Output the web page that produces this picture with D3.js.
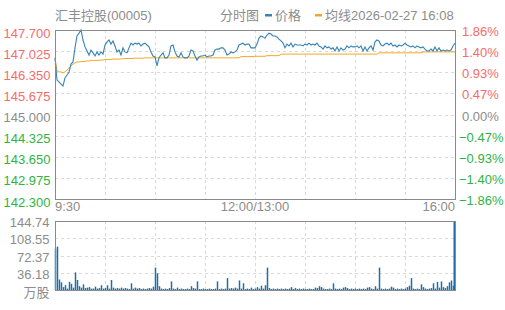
<!DOCTYPE html>
<html><head><meta charset="utf-8">
<script src="https://cdn.jsdelivr.net/npm/d3@7"></script>
<style>
body{margin:0;background:#fff;}
text{font-family:"Liberation Sans",Arial,"Noto Sans CJK SC",sans-serif;}
</style></head>
<body><svg id="c" width="505" height="310"></svg>
<script>
const title = "汇丰控股(00005)";
const legendLabels = ["分时图", "价格", "均线2026-02-27 16:08"];
const preClose = 145.000;
const priceTicks = [147.700,147.025,146.350,145.675,145.000,144.325,143.650,142.975,142.300];
const priceTickLabels = ["147.700","147.025","146.350","145.675","145.000","144.325","143.650","142.975","142.300"];
const pctTickLabels = ["1.86%","1.40%","0.93%","0.47%","0.00%","\u22120.47%","\u22120.93%","\u22121.40%","\u22121.86%"];
const timeLabels = ["9:30","12:00/13:00","16:00"];
const volTicks = [144.74,108.55,72.37,36.18];
const volTickLabels = ["144.74","108.55","72.37","36.18"];
const volUnit = "万股";

const prices = [146.81,146.10,146.04,145.97,145.91,146.17,146.26,146.36,146.61,146.68,147.13,147.51,147.60,147.70,147.38,147.16,147.03,146.90,147.06,146.97,146.87,147.00,146.90,147.00,146.93,147.22,147.32,147.38,147.25,147.35,147.19,147.00,147.06,146.90,147.13,147.00,146.97,147.13,147.28,147.22,147.28,147.25,147.28,147.19,147.25,147.28,147.22,147.16,147.00,146.87,
146.84,146.55,146.81,146.90,146.97,146.81,146.81,146.90,147.19,147.22,147.00,146.87,146.84,146.97,146.84,146.81,146.81,146.87,147.06,147.03,146.87,146.74,146.84,146.87,146.87,146.90,146.84,146.87,146.87,146.90,147.06,147.09,147.09,147.13,147.13,147.06,146.90,146.93,147.00,146.97,147.00,147.06,147.22,147.25,147.28,147.22,147.25,147.25,147.13,147.13,
147.13,147.25,147.44,147.51,147.48,147.44,147.54,147.60,147.57,147.51,147.51,147.48,147.41,147.35,147.28,147.13,147.25,147.19,147.28,147.16,147.25,147.22,147.22,147.22,147.19,147.25,147.22,147.28,147.22,147.25,147.22,147.28,147.19,147.16,147.09,147.19,147.13,147.16,147.09,147.13,147.03,147.16,147.03,147.13,147.06,147.09,147.19,147.13,147.19,147.16,
147.16,147.19,147.13,147.19,147.03,147.16,147.03,147.13,147.19,147.06,147.32,147.38,147.35,147.22,147.19,147.25,147.28,147.22,147.28,147.19,147.22,147.16,147.22,147.19,147.22,147.28,147.22,147.19,147.16,147.19,147.13,147.19,147.16,147.13,147.16,147.09,147.03,147.03,147.09,147.03,147.16,147.03,147.13,147.03,147.06,147.03,147.06,147.03,147.06,147.19,147.28];

const avgPrices = [146.81,146.39,146.36,146.36,146.33,146.36,
146.42,146.49,146.55,146.61,146.65,146.68,146.68,146.69,146.69,146.70,
146.71,146.71,146.73,146.73,146.73,146.73,146.73,146.74,146.74,
146.76,146.76,146.76,146.76,146.77,146.77,146.77,146.77,146.78,146.78,
146.79,146.79,146.79,146.79,146.79,146.80,146.80,146.80,146.80,146.80,146.81,146.81,146.81,146.81,146.81,
146.81,146.81,146.81,146.81,146.81,146.81,146.81,146.81,146.81,146.81,146.81,146.81,146.81,146.81,146.81,146.81,146.81,146.81,146.81,146.81,146.81,146.81,146.81,146.81,146.81,146.81,146.81,146.81,146.81,146.81,146.81,146.81,146.81,146.81,146.81,146.81,146.81,146.81,146.81,146.81,146.81,146.81,146.81,
146.85,146.85,146.85,146.85,146.85,146.85,146.85,
146.86,146.86,146.86,146.86,146.86,146.86,
146.88,146.88,146.88,146.88,146.88,146.88,146.88,
146.93,146.93,146.93,146.93,146.93,146.93,146.93,146.93,146.93,146.93,146.93,146.93,146.93,146.93,146.93,146.93,146.93,146.93,146.93,146.93,146.93,146.93,146.93,146.93,146.93,146.93,146.93,146.93,146.93,146.93,146.93,146.93,146.93,146.93,146.93,146.93,146.93,
146.93,146.93,146.93,146.93,146.93,146.93,146.93,146.93,146.93,146.93,146.93,146.93,
146.97,146.97,146.97,146.97,146.97,146.97,146.97,146.97,146.97,146.97,146.97,146.97,146.97,146.97,146.97,146.97,146.97,146.97,146.97,146.97,146.97,146.97,
147.00,147.00,147.00,147.00,147.00,147.00,147.00,147.00,147.00,147.00,147.00,147.00,147.00,147.00,147.00,147.00,147.00];

const volumes = [87,91,22,16,6,10,3,17,13,5,37,21,8,5,12,4,5,6,3,3,7,3,4,10,3,4,10,3,21,5,3,4,3,5,3,4,3,2,14,3,5,3,4,2,3,2,3,4,3,7,
47,35,8,3,2,3,2,4,18,3,2,5,2,3,2,2,3,2,8,4,3,18,2,2,3,2,2,3,2,2,3,18,2,3,2,3,25,3,4,3,5,3,20,3,14,2,3,2,5,2,
3,6,3,9,3,10,47,4,2,3,2,3,2,3,2,3,2,3,6,2,4,2,3,2,3,2,2,3,2,2,5,4,8,6,3,2,2,3,2,14,3,2,3,2,5,6,4,2,3,2,
3,2,3,2,3,2,5,6,3,2,8,3,47,3,2,3,2,3,7,5,2,3,2,3,2,3,6,9,25,3,2,3,2,12,6,3,2,3,4,14,3,17,5,18,6,4,8,16,20,9,144.74];

const svg = d3.select("#c");
const L = 55, R = 455, T = 30, B = 199, VT = 221, VB = 290;
const red = "#f56c6c", green = "#2fb344", gray = "#8c8c8c";
const lineColor = "#3783b6", avgColor = "#f7a823", volColor = "#1f6ea6";

const x = d3.scaleLinear().domain([0, prices.length - 1]).range([L, R]);
const y = d3.scaleLinear().domain([142.3, 147.7]).range([B, T]);
const yv = d3.scaleLinear().domain([0, 144.74]).range([VB, VT]);

function grid(top, bottom, yTicks, yScale) {
  const g = svg.append("g").attr("stroke", "#d9d9d9").attr("stroke-dasharray", "3,3").attr("stroke-width", 1);
  for (let k = 1; k < 8; k++) {
    const gx = Math.round(L + (R - L) * k / 8) + 0.5;
    g.append("line").attr("x1", gx).attr("x2", gx).attr("y1", top).attr("y2", bottom);
  }
  yTicks.forEach(v => {
    const gy = Math.round(yScale(v)) + 0.5;
    g.append("line").attr("x1", L).attr("x2", R).attr("y1", gy).attr("y2", gy);
  });
}
grid(T, B, priceTicks.slice(1, -1), y);
grid(VT, VB, volTicks.slice(1), yv);

// price labels
const fs = 13;
priceTicks.forEach((v, i) => {
  const c = v > preClose ? red : (v < preClose ? green : gray);
  svg.append("text").attr("x", 50.5).attr("y", y(v) + 3).attr("dy", "0.35em")
    .attr("text-anchor", "end").attr("font-size", fs).attr("fill", c).text(priceTickLabels[i]);
  svg.append("text").attr("x", v < preClose ? 459 : 462).attr("y", y(v) + 1.5).attr("dy", "0.35em")
    .attr("text-anchor", "start").attr("font-size", fs).attr("fill", c).text(pctTickLabels[i]);
});

// time labels
svg.append("text").attr("x", L).attr("y", 206).attr("dy", "0.35em").attr("font-size", fs).attr("fill", gray).attr("text-anchor", "start").text(timeLabels[0]);
svg.append("text").attr("x", (L + R) / 2).attr("y", 206).attr("dy", "0.35em").attr("font-size", fs).attr("fill", gray).attr("text-anchor", "middle").text(timeLabels[1]);
svg.append("text").attr("x", R).attr("y", 206).attr("dy", "0.35em").attr("font-size", fs).attr("fill", gray).attr("text-anchor", "end").text(timeLabels[2]);

// volume labels
volTicks.forEach((v, i) => {
  svg.append("text").attr("x", 49.5).attr("y", yv(v) + 1.5).attr("dy", "0.35em").attr("text-anchor", "end")
    .attr("font-size", fs).attr("fill", gray).text(volTickLabels[i]);
});
svg.append("text").attr("x", 49.5).attr("y", 292.5).attr("dy", "0.35em").attr("text-anchor", "end")
  .attr("font-size", fs).attr("fill", gray).text(volUnit);

// volume bars
svg.append("g").selectAll("rect").data(volumes).join("rect")
  .attr("x", (d, i) => Math.min(x(i) - 0.25, R - 1.5)).attr("width", 1.5)
  .attr("y", d => yv(d)).attr("height", d => VB - yv(d)).attr("fill", volColor);

// avg line & price line
svg.append("path").datum(avgPrices).attr("fill", "none").attr("stroke", avgColor).attr("stroke-width", 1)
  .attr("d", d3.line().x((d, i) => x(i)).y(d => y(d)));
svg.append("path").datum(prices).attr("fill", "none").attr("stroke", lineColor).attr("stroke-width", 1.1)
  .attr("d", d3.line().x((d, i) => x(i)).y(d => y(d)));

// borders
[[T, B], [VT, VB]].forEach(([t, b]) => {
  svg.append("rect").attr("x", L + 0.5).attr("y", t + 0.5).attr("width", R - L).attr("height", b - t)
    .attr("fill", "none").attr("stroke", "#8a8a8a").attr("stroke-width", 1);
});

// title & legend
svg.append("text").attr("x", L).attr("y", 15).attr("dy", "0.35em").attr("font-size", fs).attr("fill", gray).text(title);
svg.append("text").attr("x", 220).attr("y", 15).attr("dy", "0.35em").attr("font-size", fs).attr("fill", gray).text(legendLabels[0]);
svg.append("rect").attr("x", 265).attr("y", 14).attr("width", 7).attr("height", 2.5).attr("fill", lineColor);
svg.append("text").attr("x", 275).attr("y", 15).attr("dy", "0.35em").attr("font-size", fs).attr("fill", gray).text(legendLabels[1]);
svg.append("rect").attr("x", 315).attr("y", 14).attr("width", 7).attr("height", 2.5).attr("fill", avgColor);
svg.append("text").attr("x", 325).attr("y", 15).attr("dy", "0.35em").attr("font-size", fs).attr("fill", gray).text(legendLabels[2]);
</script></body></html>
